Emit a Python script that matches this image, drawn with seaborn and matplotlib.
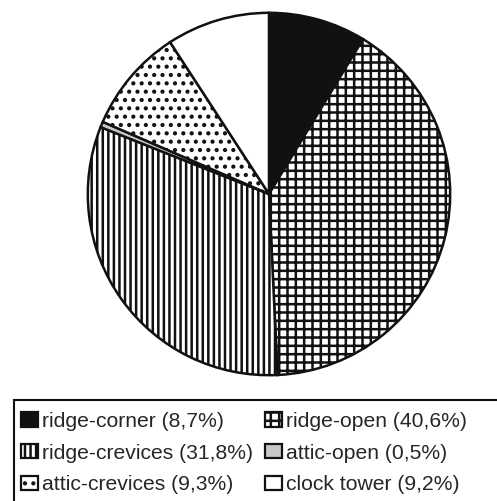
import matplotlib as mpl
mpl.use('Agg')
import matplotlib.pyplot as plt
import matplotlib.patches as mpatches
import seaborn as sns

# data
labels = ['ridge-corner', 'ridge-open', 'ridge-crevices', 'attic-open', 'attic-crevices', 'clock tower']
shares = [8.7, 40.6, 31.8, 0.5, 9.3, 9.2]
share_txt = ['8,7', '40,6', '31,8', '0,5', '9,3', '9,2']

colors = ['#111111', 'white', 'white', '#c8c8c8', 'white', 'white']
hatches = ['', '++', '|||', '', '..', '']

sns.set_theme(style='white')
plt.rcParams['font.family'] = ['Liberation Sans', 'DejaVu Sans']
plt.rcParams['hatch.linewidth'] = 1.8
plt.rcParams['hatch.color'] = '#111111'

fig = plt.figure(figsize=(4.97, 5.01), dpi=100)
ax = fig.add_axes([86 / 497, (501 - 377) / 501, 366 / 497, 366 / 501])

wedges, _ = ax.pie(shares, colors=colors, startangle=90, counterclock=False,
                   wedgeprops=dict(edgecolor='#111111', linewidth=1.8))
for w, h in zip(wedges, hatches):
    w.set_hatch(h)
ax.set_xlim(-1.01, 1.01)
ax.set_ylim(-1.01, 1.01)
ax.set_aspect('equal')
ax.axis('off')

# legend: rows ridge-corner/ridge-open, ridge-crevices/attic-open, attic-crevices/clock tower
order = [0, 2, 4, 1, 3, 5]
handles = [wedges[i] for i in order]
texts = [f'{labels[i]} ({share_txt[i]}%)' for i in order]
leg = fig.legend(handles, texts, ncol=2, loc='upper left',
                 bbox_to_anchor=(21 / 497, 1 - 412 / 501), frameon=False,
                 fontsize=15.2, handlelength=0.8, handleheight=0.66, handletextpad=0.18,
                 columnspacing=0.6, labelspacing=0.6, borderpad=0, borderaxespad=0)
for p in leg.get_patches():
    p.set_linewidth(1.6)

# legend box, runs off the right and bottom edges
fig.add_artist(mpatches.Rectangle((14 / 497, -0.1), 1.0, (501 - 400) / 501 + 0.1,
                                  transform=fig.transFigure, fill=False,
                                  edgecolor='#111111', linewidth=1.5))

fig.savefig('out.png', dpi=100)
